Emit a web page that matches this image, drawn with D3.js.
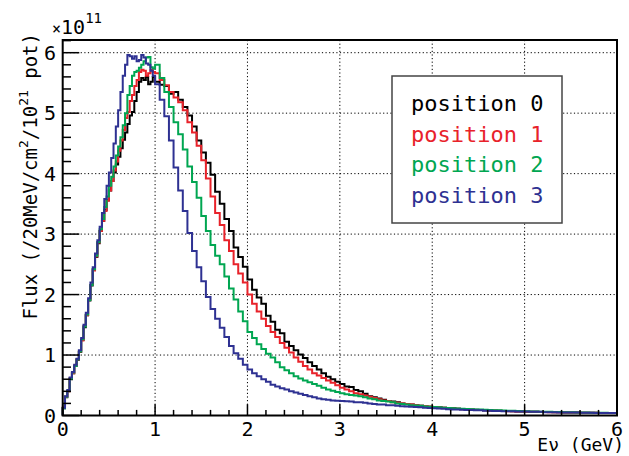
<!DOCTYPE html>
<html><head><meta charset="utf-8">
<script src="https://cdn.jsdelivr.net/npm/d3@7"></script>
<style>body{margin:0;background:#fff}svg{display:block}</style>
</head><body><svg id="c" width="629" height="456"></svg>
<script>
// bin low edges (GeV): 25 MeV bins below 1 GeV, 50 MeV bins above
const binEdges = d3.range(0, 40).map(i => i * 0.025)
  .concat(d3.range(0, 101).map(i => 1 + i * 0.05));
const xTicks = [0,1,2,3,4,5,6];
const yTicks = [0,1,2,3,4,5,6];
const seriesNames = ["position 0","position 1","position 2","position 3"];
const seriesColors = ["#000000","#e8222a","#00a651","#2e3192"];

const pos0 = [
0.12,0.30,0.40,0.60,0.70,0.82,0.92,1.05,1.25,1.46,1.66,1.90,2.15,2.42,2.62,2.85,
3.05,3.22,3.40,3.56,3.72,3.88,4.02,4.15,4.28,4.42,4.56,4.68,4.82,4.96,5.02,5.20,
5.35,5.52,5.58,5.55,5.60,5.48,5.52,5.60,
5.52,5.47,5.45,5.32,
5.35,5.22,5.10,4.96,4.78,4.55,4.35,4.18,
3.98,3.70,3.50,3.25,3.05,2.78,2.62,2.46,
2.25,2.08,1.95,1.85,1.65,1.55,1.42,1.36,
1.22,1.15,1.08,1.01,0.95,0.88,0.82,0.76,
0.70,0.64,0.60,0.56,0.52,0.48,0.47,0.42,
0.40,0.36,0.32,0.30,0.28,0.26,0.24,0.23,
0.22,0.20,0.19,0.18,0.17,0.16,0.15,0.145,
0.14,0.135,0.13,0.122,0.118,0.11,0.106,0.10,0.098,0.094,
0.09,0.088,0.084,0.081,0.078,0.075,0.073,0.07,0.068,0.066,
0.064,0.062,0.061,0.059,0.057,0.056,0.054,0.053,0.051,0.05,
0.049,0.048,0.047,0.046,0.045,0.044,0.043,0.042,0.041,0.04];

const pos1 = [
0.13,0.31,0.40,0.62,0.70,0.83,0.93,1.06,1.24,1.48,1.66,1.92,2.16,2.40,2.63,2.86,
3.05,3.22,3.38,3.55,3.72,3.88,4.05,4.20,4.38,4.55,4.72,4.92,5.02,5.20,5.30,5.45,
5.55,5.68,5.72,5.70,5.62,5.66,5.72,5.68,
5.66,5.55,5.46,5.35,
5.26,5.18,5.05,4.85,4.68,4.46,4.22,3.92,
3.62,3.35,3.15,2.90,2.72,2.50,2.35,2.20,
2.00,1.85,1.72,1.60,1.48,1.38,1.30,1.20,
1.12,1.04,0.96,0.89,0.82,0.76,0.70,0.66,
0.62,0.58,0.54,0.50,0.46,0.43,0.40,0.37,
0.35,0.33,0.31,0.29,0.27,0.25,0.24,0.22,
0.21,0.20,0.19,0.18,0.17,0.16,0.155,0.15,
0.142,0.136,0.128,0.122,0.115,0.11,0.105,0.101,0.097,0.093,
0.09,0.087,0.083,0.08,0.078,0.075,0.072,0.07,0.068,0.066,
0.064,0.062,0.06,0.058,0.057,0.055,0.054,0.052,0.051,0.05,
0.049,0.048,0.047,0.046,0.045,0.044,0.043,0.042,0.041,0.04];

const pos2 = [
0.12,0.31,0.41,0.61,0.71,0.82,0.93,1.06,1.26,1.47,1.67,1.91,2.16,2.42,2.64,2.87,
3.08,3.25,3.45,3.62,3.80,3.95,4.12,4.30,4.45,4.60,4.80,5.00,5.30,5.45,5.62,5.68,
5.70,5.75,5.80,5.86,5.92,5.93,5.76,5.74,
5.80,5.58,5.35,5.10,
4.85,4.65,4.40,4.12,3.86,3.60,3.30,3.05,
2.82,2.64,2.50,2.30,2.10,1.92,1.72,1.56,
1.38,1.28,1.18,1.10,1.02,0.96,0.88,0.80,
0.75,0.70,0.65,0.61,0.58,0.55,0.52,0.49,
0.46,0.43,0.41,0.39,0.37,0.35,0.34,0.33,
0.32,0.30,0.28,0.27,0.25,0.24,0.23,0.22,
0.20,0.19,0.18,0.17,0.165,0.16,0.15,0.145,
0.14,0.135,0.13,0.125,0.12,0.115,0.11,0.108,0.104,0.1,
0.098,0.094,0.09,0.088,0.085,0.081,0.079,0.077,0.074,0.072,
0.07,0.068,0.066,0.064,0.062,0.06,0.058,0.056,0.055,0.054,
0.052,0.05,0.049,0.048,0.047,0.046,0.045,0.044,0.043,0.042];

const pos3 = [
0.13,0.32,0.42,0.63,0.72,0.84,0.94,1.08,1.28,1.50,1.70,1.94,2.20,2.45,2.68,2.90,
3.12,3.35,3.58,3.80,4.02,4.26,4.50,4.78,5.05,5.35,5.62,5.80,5.96,5.94,5.90,5.94,
5.86,5.88,5.96,5.92,5.82,5.80,5.70,5.62,
5.48,5.22,4.95,4.55,
4.10,3.72,3.38,3.02,2.72,2.45,2.22,1.96,
1.76,1.60,1.45,1.30,1.15,1.03,0.94,0.84,
0.76,0.70,0.65,0.60,0.56,0.51,0.48,0.45,
0.43,0.40,0.38,0.36,0.34,0.32,0.30,0.28,
0.27,0.26,0.25,0.245,0.24,0.235,0.23,0.22,
0.22,0.21,0.20,0.19,0.18,0.18,0.17,0.17,
0.16,0.155,0.15,0.145,0.14,0.135,0.13,0.125,
0.12,0.115,0.11,0.105,0.10,0.10,0.095,0.09,0.09,0.085,
0.085,0.08,0.08,0.075,0.075,0.07,0.07,0.07,0.065,0.065,
0.065,0.06,0.06,0.06,0.055,0.055,0.055,0.05,0.05,0.05,
0.05,0.048,0.047,0.045,0.045,0.043,0.042,0.041,0.04,0.04];

const series = [pos0,pos1,pos2,pos3];

const svg = d3.select("#c");
const L = 62.7, R = 617, T = 40, B = 415.5;
const x = d3.scaleLinear().domain([0,6]).range([L,R]);
const y = d3.scaleLinear().domain([0,6.21]).range([B,T]);
const mono = "'DejaVu Sans Mono', 'Liberation Mono', monospace";

// grid
const grid = svg.append("g").attr("stroke","#000").attr("stroke-width",1).attr("stroke-dasharray","1.2,2.4");
xTicks.filter(d=>d>0&&d<6).forEach(d=>grid.append("line").attr("x1",x(d)).attr("x2",x(d)).attr("y1",T).attr("y2",B));
yTicks.filter(d=>d>0).forEach(d=>grid.append("line").attr("x1",L).attr("x2",R).attr("y1",y(d)).attr("y2",y(d)));

// histograms
const line = d3.line().x(d=>x(d[0])).y(d=>y(d[1])).curve(d3.curveStepAfter);
series.forEach((vals,k)=>{
  const n = Math.min(vals.length, binEdges.length-1);
  const pts = [[0,0]];
  for (let i=0;i<n;i++) pts.push([binEdges[i], vals[i]]);
  pts.push([binEdges[n], vals[n-1]]);
  svg.append("path").attr("d",line(pts)).attr("fill","none")
    .attr("stroke",seriesColors[k]).attr("stroke-width",2).attr("stroke-linejoin","miter");
});

// frame
svg.append("rect").attr("x",L).attr("y",T).attr("width",R-L).attr("height",B-T)
  .attr("fill","none").attr("stroke","#000").attr("stroke-width",2);

// ticks (inside)
const xt = svg.append("g").attr("stroke","#000").attr("stroke-width",1.5);
d3.range(0,31).forEach(i=>{
  const v = i*0.2, major = i%5===0;
  xt.append("line").attr("x1",x(v)).attr("x2",x(v)).attr("y1",B).attr("y2",B-(major?11.3:5.6));
});
const yt = svg.append("g").attr("stroke","#000").attr("stroke-width",1.5);
d3.range(0,32).forEach(i=>{
  const v = i*0.2; if (v>6.21) return; const major = i%5===0;
  yt.append("line").attr("x1",L).attr("x2",L+(major?16.6:8.3)).attr("y1",y(v)).attr("y2",y(v));
});

// tick labels
svg.append("g").selectAll("text").data(xTicks).join("text")
  .attr("x",d=>x(d)).attr("y",436).attr("text-anchor","middle")
  .attr("font-family",mono).attr("font-size",20).text(d=>d);
svg.append("g").selectAll("text").data(yTicks).join("text")
  .attr("x",56).attr("y",d=>y(d)+7).attr("text-anchor","end")
  .attr("font-family",mono).attr("font-size",20).text(d=>d);

// exponent
const ex = svg.append("text").attr("x",52).attr("y",34).attr("font-family",mono).attr("font-size",20);
ex.append("tspan").attr("font-size",15).text("×");
ex.append("tspan").text("10");
ex.append("tspan").attr("font-size",14).attr("dy",-11).text("11");

// x title
svg.append("text").attr("x",624).attr("y",451).attr("text-anchor","end")
  .attr("font-family",mono).attr("font-size",18).text("Eν (GeV)");

// y title
const yl = svg.append("text").attr("transform","translate(37,33) rotate(-90)")
  .attr("text-anchor","end").attr("font-family",mono).attr("font-size",19);
yl.append("tspan").text("Flux (/20MeV/cm");
yl.append("tspan").attr("font-size",13).attr("dy",-9).text("2");
yl.append("tspan").attr("dy",9).text("/10");
yl.append("tspan").attr("font-size",13).attr("dy",-9).text("21");
yl.append("tspan").attr("dy",9).text(" pot)");

// legend
svg.append("rect").attr("x",392).attr("y",76).attr("width",170).attr("height",147)
  .attr("fill","#fff").attr("stroke","#444").attr("stroke-width",1.5);
seriesNames.forEach((n,k)=>{
  svg.append("text").attr("x",411).attr("y",111+k*30.7).attr("font-family",mono)
    .attr("font-size",22).attr("fill",seriesColors[k]).text(n);
});
</script></body></html>
